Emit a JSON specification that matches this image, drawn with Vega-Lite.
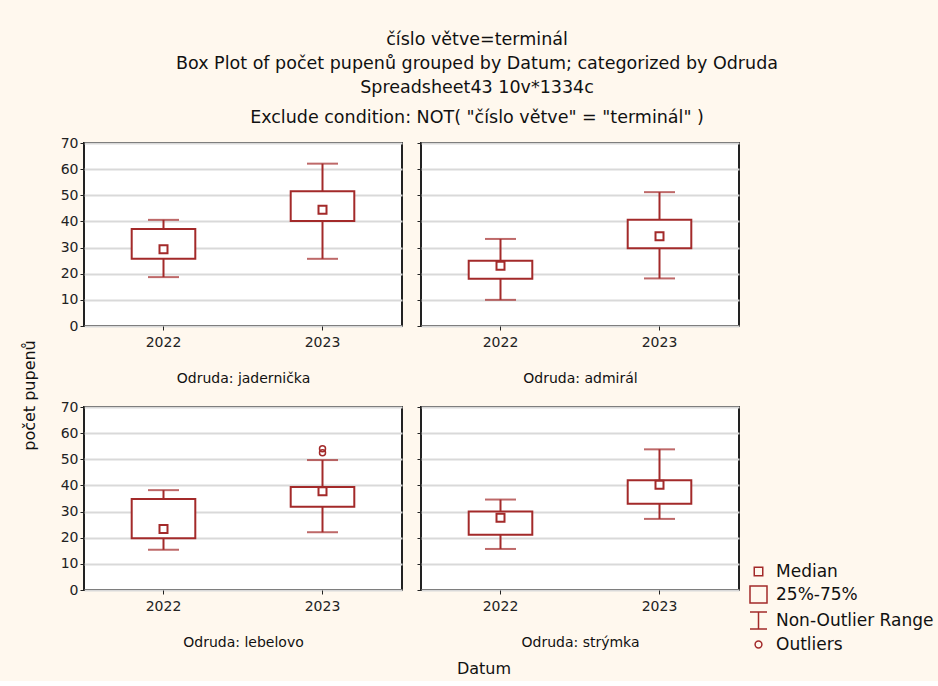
{
  "$schema": "https://vega.github.io/schema/vega-lite/v6.json",
  "background": "#FFF8EE",
  "padding": {"left": 20, "top": 31, "right": 6, "bottom": 3},
  "title": {
    "text": ["číslo větve=terminál", "Box Plot of počet pupenů grouped by  Datum; categorized by Odruda", "Spreadsheet43 10v*1334c"],
    "subtitle": "Exclude condition: NOT( \"číslo větve\" = \"terminál\" )",
    "font": "DejaVu Sans", "fontSize": 17.5, "fontWeight": "normal", "lineHeight": 24, "color": "#111",
    "subtitleFont": "DejaVu Sans", "subtitleFontSize": 17.5, "subtitleColor": "#111", "subtitlePadding": 12,
    "anchor": "middle", "frame": "bounds", "offset": 9
  },
  "datasets": {
    "boxes": [
      {"Odruda": "jadernička", "Datum": "2022", "min": 18.7, "q1": 25.7, "median": 29.4, "q3": 37.1, "max": 40.6},
      {"Odruda": "jadernička", "Datum": "2023", "min": 25.7, "q1": 40.2, "median": 44.5, "q3": 51.5, "max": 62.1},
      {"Odruda": "admirál", "Datum": "2022", "min": 10.0, "q1": 18.1, "median": 23.0, "q3": 25.0, "max": 33.3},
      {"Odruda": "admirál", "Datum": "2023", "min": 18.2, "q1": 29.7, "median": 34.3, "q3": 40.6, "max": 51.2},
      {"Odruda": "lebelovo", "Datum": "2022", "min": 15.4, "q1": 19.8, "median": 23.3, "q3": 34.8, "max": 38.2},
      {"Odruda": "lebelovo", "Datum": "2023", "min": 22.1, "q1": 31.8, "median": 37.8, "q3": 39.4, "max": 49.7},
      {"Odruda": "strýmka", "Datum": "2022", "min": 15.7, "q1": 21.1, "median": 27.6, "q3": 30.0, "max": 34.6},
      {"Odruda": "strýmka", "Datum": "2023", "min": 27.2, "q1": 33.0, "median": 40.3, "q3": 42.0, "max": 53.8}
    ],
    "outliers": [
      {"Odruda": "lebelovo", "Datum": "2023", "value": 52.5},
      {"Odruda": "lebelovo", "Datum": "2023", "value": 54.0}
    ]
  },
  "data": {"name": "boxes"},
  "config": {
    "view": {"stroke": "#222", "strokeWidth": 2, "fill": "white"},
    "axis": {
      "labelFont": "DejaVu Sans", "labelFontSize": 14, "labelColor": "#222",
      "tickColor": "#222", "tickSize": 4, "domain": false,
      "titleFont": "DejaVu Sans", "titleFontSize": 16, "titleFontWeight": "normal", "titleColor": "#111"
    },
    "axisY": {"gridColor": "#d9d9d9", "gridWidth": 2, "tickCount": 7},
    "axisX": {"grid": false, "labelAngle": 0, "labelPadding": 5, "titleFontSize": 14, "titlePadding": 22},
    "title": {"font": "DejaVu Sans", "fontWeight": "normal"}
  },
  "columns": 2,
  "spacing": {"row": 81, "column": 19},
  "bounds": "flush",
  "concat": [
    {
      "width": 318, "height": 183,
      "transform": [{"filter": "datum.Odruda === 'jadernička'"}],
      "encoding": {
        "x": {"field": "Datum", "type": "nominal", "scale": {"domain": ["2022", "2023"], "paddingInner": 0, "paddingOuter": 0}, "axis": {"title": "Odruda: jadernička"}}
      },
      "layer": [
        {"mark": {"type": "rule", "strokeWidth": 2},
         "encoding": {
           "y": {"field": "min", "type": "quantitative", "scale": {"domain": [0, 70], "nice": false},
                 "axis": {"tickCount": 7, "title": "počet pupenů", "titleX": -55, "titleY": 252, "titleBaseline": "middle", "titleAlign": "center", "titleAngle": -90}},
           "y2": {"field": "max"},
           "stroke": {"datum": "Non-Outlier Range", "scale": {"domain": ["Median", "25%-75%", "Non-Outlier Range", "Outliers"], "range": ["#a32a2a", "#a32a2a", "#a32a2a", "#a32a2a"]},
             "legend": {"orient": "none", "legendX": 665, "legendY": 419, "title": null, "symbolSize": 289, "labelFont": "DejaVu Sans", "labelFontSize": 17, "labelColor": "#111", "rowPadding": 3, "labelOffset": 8,
               "encode": {"symbols": {"update": {
                 "shape": {"signal": "datum.value === 'Median' ? 'M-0.5,-0.5H0.5V0.5H-0.5Z' : datum.value === '25%-75%' ? 'M-1,-1H1V1H-1Z' : datum.value === 'Non-Outlier Range' ? 'M-1,-1H1M0,-1V1M-1,1H1' : 'M0.4,0A0.4,0.4 0 1,1 -0.4,0A0.4,0.4 0 1,1 0.4,0Z'"},
                 "fill": {"value": "transparent"}, "stroke": {"value": "#a32a2a"}, "strokeWidth": {"value": 1.5}, "opacity": {"value": 1}}}}}}
         }},
        {"mark": {"type": "tick", "color": "#a32a2a", "thickness": 2, "size": 31},
         "encoding": {"y": {"field": "max", "type": "quantitative"}}},
        {"mark": {"type": "tick", "color": "#a32a2a", "thickness": 2, "size": 31},
         "encoding": {"y": {"field": "min", "type": "quantitative"}}},
        {"mark": {"type": "bar", "fill": "white", "strokeWidth": 2, "width": {"band": 0.4}},
         "encoding": {"y": {"field": "q1", "type": "quantitative"}, "y2": {"field": "q3"}, "stroke": {"datum": "25%-75%"}}},
        {"mark": {"type": "point", "shape": "square", "size": 64, "filled": true, "fill": "white", "strokeWidth": 2, "opacity": 1},
         "encoding": {"y": {"field": "median", "type": "quantitative"}, "stroke": {"datum": "Median"}}}
      ]
    },
    {
      "width": 318, "height": 183,
      "transform": [{"filter": "datum.Odruda === 'admirál'"}],
      "encoding": {
        "x": {"field": "Datum", "type": "nominal", "scale": {"domain": ["2022", "2023"], "paddingInner": 0, "paddingOuter": 0}, "axis": {"title": "Odruda: admirál"}}
      },
      "layer": [
        {"mark": {"type": "rule", "strokeWidth": 2},
         "encoding": {
           "y": {"field": "min", "type": "quantitative", "scale": {"domain": [0, 70], "nice": false},
                 "axis": {"tickCount": 7, "title": null, "labels": false}},
           "y2": {"field": "max"},
           "stroke": {"datum": "Non-Outlier Range"}
         }},
        {"mark": {"type": "tick", "color": "#a32a2a", "thickness": 2, "size": 31},
         "encoding": {"y": {"field": "max", "type": "quantitative"}}},
        {"mark": {"type": "tick", "color": "#a32a2a", "thickness": 2, "size": 31},
         "encoding": {"y": {"field": "min", "type": "quantitative"}}},
        {"mark": {"type": "bar", "fill": "white", "strokeWidth": 2, "width": {"band": 0.4}},
         "encoding": {"y": {"field": "q1", "type": "quantitative"}, "y2": {"field": "q3"}, "stroke": {"datum": "25%-75%"}}},
        {"mark": {"type": "point", "shape": "square", "size": 64, "filled": true, "fill": "white", "strokeWidth": 2, "opacity": 1},
         "encoding": {"y": {"field": "median", "type": "quantitative"}, "stroke": {"datum": "Median"}}}
      ]
    },
    {
      "width": 318, "height": 183,
      "encoding": {
        "x": {"field": "Datum", "type": "nominal", "scale": {"domain": ["2022", "2023"], "paddingInner": 0, "paddingOuter": 0}, "axis": {"title": "Odruda: lebelovo"}}
      },
      "layer": [
        {"transform": [{"filter": "datum.Odruda === 'lebelovo'"}],
         "mark": {"type": "rule", "strokeWidth": 2},
         "encoding": {
           "y": {"field": "min", "type": "quantitative", "scale": {"domain": [0, 70], "nice": false},
                 "axis": {"tickCount": 7, "title": null}},
           "y2": {"field": "max"},
           "stroke": {"datum": "Non-Outlier Range"}
         }},
        {"transform": [{"filter": "datum.Odruda === 'lebelovo'"}],
         "mark": {"type": "tick", "color": "#a32a2a", "thickness": 2, "size": 31},
         "encoding": {"y": {"field": "max", "type": "quantitative"}}},
        {"transform": [{"filter": "datum.Odruda === 'lebelovo'"}],
         "mark": {"type": "tick", "color": "#a32a2a", "thickness": 2, "size": 31},
         "encoding": {"y": {"field": "min", "type": "quantitative"}}},
        {"transform": [{"filter": "datum.Odruda === 'lebelovo'"}],
         "mark": {"type": "bar", "fill": "white", "strokeWidth": 2, "width": {"band": 0.4}},
         "encoding": {"y": {"field": "q1", "type": "quantitative"}, "y2": {"field": "q3"}, "stroke": {"datum": "25%-75%"}}},
        {"transform": [{"filter": "datum.Odruda === 'lebelovo'"}],
         "mark": {"type": "point", "shape": "square", "size": 64, "filled": true, "fill": "white", "strokeWidth": 2, "opacity": 1},
         "encoding": {"y": {"field": "median", "type": "quantitative"}, "stroke": {"datum": "Median"}}},
        {"data": {"name": "outliers"},
         "mark": {"type": "point", "shape": "circle", "size": 36, "filled": false, "strokeWidth": 1.5, "opacity": 1},
         "encoding": {"y": {"field": "value", "type": "quantitative"}, "stroke": {"datum": "Outliers"}}}
      ]
    },
    {
      "width": 318, "height": 183,
      "title": {"text": "Datum", "orient": "bottom", "fontSize": 16, "color": "#111", "offset": 12, "anchor": "middle", "dx": -96},
      "transform": [{"filter": "datum.Odruda === 'strýmka'"}],
      "encoding": {
        "x": {"field": "Datum", "type": "nominal", "scale": {"domain": ["2022", "2023"], "paddingInner": 0, "paddingOuter": 0}, "axis": {"title": "Odruda: strýmka"}}
      },
      "layer": [
        {"mark": {"type": "rule", "strokeWidth": 2},
         "encoding": {
           "y": {"field": "min", "type": "quantitative", "scale": {"domain": [0, 70], "nice": false},
                 "axis": {"tickCount": 7, "title": null, "labels": false}},
           "y2": {"field": "max"},
           "stroke": {"datum": "Non-Outlier Range"}
         }},
        {"mark": {"type": "tick", "color": "#a32a2a", "thickness": 2, "size": 31},
         "encoding": {"y": {"field": "max", "type": "quantitative"}}},
        {"mark": {"type": "tick", "color": "#a32a2a", "thickness": 2, "size": 31},
         "encoding": {"y": {"field": "min", "type": "quantitative"}}},
        {"mark": {"type": "bar", "fill": "white", "strokeWidth": 2, "width": {"band": 0.4}},
         "encoding": {"y": {"field": "q1", "type": "quantitative"}, "y2": {"field": "q3"}, "stroke": {"datum": "25%-75%"}}},
        {"mark": {"type": "point", "shape": "square", "size": 64, "filled": true, "fill": "white", "strokeWidth": 2, "opacity": 1},
         "encoding": {"y": {"field": "median", "type": "quantitative"}, "stroke": {"datum": "Median"}}}
      ]
    }
  ]
}
